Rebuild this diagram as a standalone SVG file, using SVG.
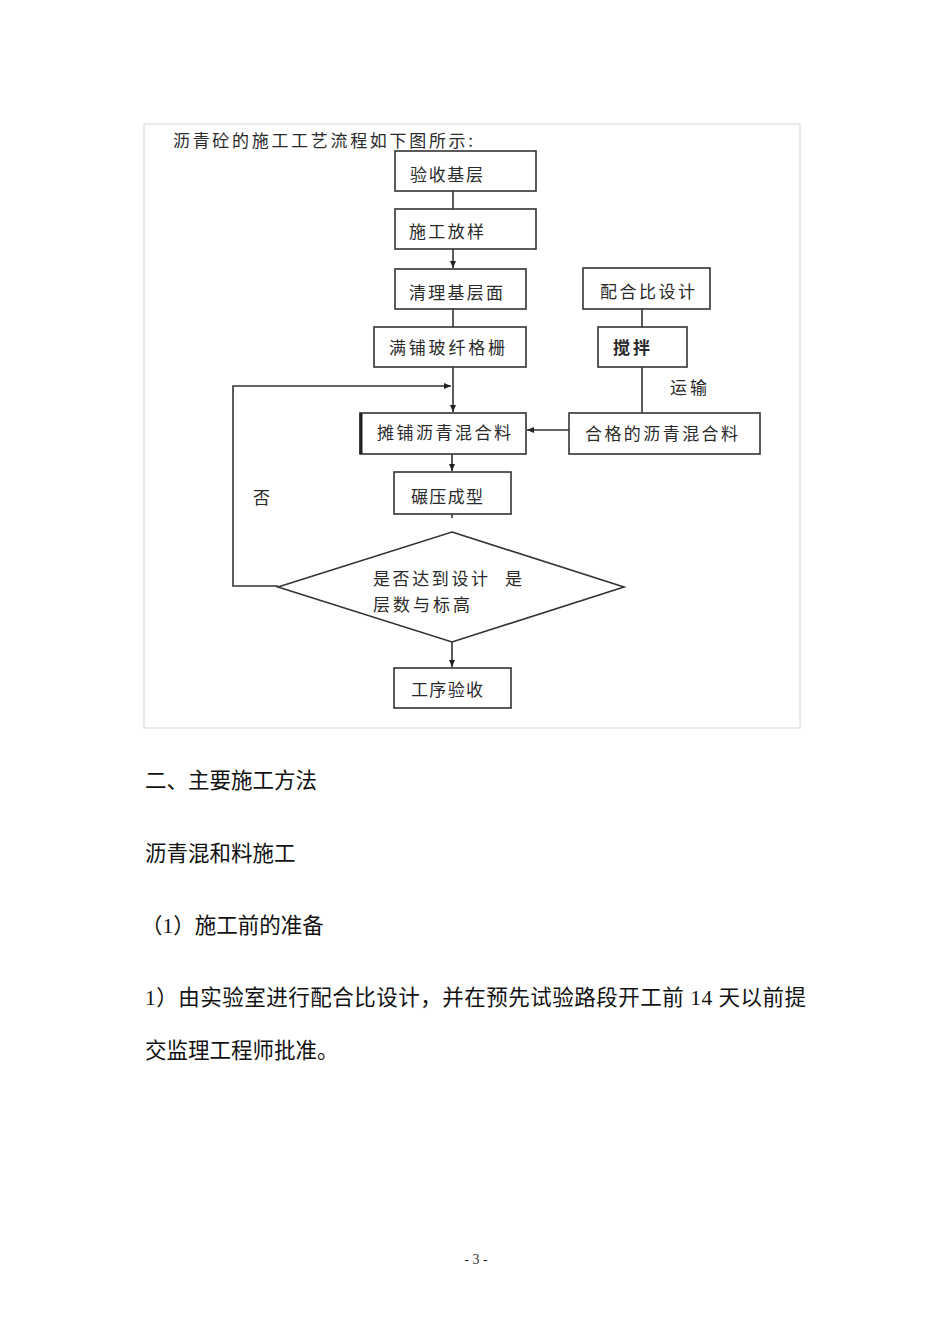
<svg xmlns="http://www.w3.org/2000/svg" width="950" height="1344" viewBox="0 0 950 1344">
<defs>
<marker id="ah" markerWidth="8" markerHeight="8" refX="7" refY="4" orient="auto" markerUnits="userSpaceOnUse">
<path d="M0,1 L7,4 L0,7 Z" fill="#222"/>
</marker>
<style>
.box{fill:#fff;stroke:#333;stroke-width:1.6}
.lbl{font-family:"Noto Sans CJK SC","Liberation Sans",sans-serif;font-size:17px;fill:#2a2a2a}
.ln{fill:none;stroke:#333;stroke-width:1.6}
.body{font-family:"Liberation Serif","Noto Sans CJK SC",serif;font-size:21.5px;fill:#111}
</style>
</defs>
<rect width="950" height="1344" fill="#fff"/>
<rect x="144" y="124" width="656" height="604" fill="none" stroke="#d6d6d6" stroke-width="1"/>
<text class="lbl" x="173" y="147" textLength="300" lengthAdjust="spacing">沥青砼的施工工艺流程如下图所示:</text>

<g id="connectors">
<line class="ln" x1="453" y1="191" x2="453" y2="209"/>
<line class="ln" x1="453" y1="249" x2="453" y2="268" marker-end="url(#ah)"/>
<line class="ln" x1="453" y1="309" x2="453" y2="327"/>
<line class="ln" x1="453" y1="367" x2="453" y2="412" marker-end="url(#ah)"/>
<line class="ln" x1="452" y1="454" x2="452" y2="471" marker-end="url(#ah)"/>
<line class="ln" x1="452" y1="514" x2="452" y2="518"/>
<line class="ln" x1="452" y1="642" x2="452" y2="667" marker-end="url(#ah)"/>
<polyline class="ln" points="278,586 233,586 233,386 451,386" marker-end="url(#ah)"/>
<line class="ln" x1="642" y1="309" x2="642" y2="327"/>
<line class="ln" x1="642" y1="367" x2="642" y2="413"/>
<line class="ln" x1="569" y1="430" x2="527" y2="430" marker-end="url(#ah)"/>
</g>

<g id="n1"><rect class="box" x="395" y="151" width="141" height="40"/><text class="lbl" x="410" y="181" textLength="73" lengthAdjust="spacing">验收基层</text></g>
<g id="n2"><rect class="box" x="395" y="209" width="141" height="40"/><text class="lbl" x="409" y="238" textLength="75" lengthAdjust="spacing">施工放样</text></g>
<g id="n3"><rect class="box" x="395" y="269" width="131" height="40"/><text class="lbl" x="409" y="299" textLength="94" lengthAdjust="spacing">清理基层面</text></g>
<g id="n4"><rect class="box" x="374" y="327" width="152" height="40"/><text class="lbl" x="389" y="354" textLength="116" lengthAdjust="spacing">满铺玻纤格栅</text></g>
<g id="n5"><rect class="box" x="598" y="327" width="89" height="40"/><text class="lbl" x="613" y="354" textLength="37" lengthAdjust="spacing" font-weight="bold">搅拌</text></g>
<g id="n6"><rect class="box" x="583" y="268" width="127" height="41"/><text class="lbl" x="600" y="298" textLength="95" lengthAdjust="spacing">配合比设计</text></g>
<g id="n7"><rect class="box" x="569" y="413" width="191" height="41"/><text class="lbl" x="585" y="440" textLength="153" lengthAdjust="spacing">合格的沥青混合料</text></g>
<g id="n8"><rect class="box" x="360" y="413" width="166" height="41"/><line x1="361" y1="413" x2="361" y2="454" stroke="#222" stroke-width="3"/><text class="lbl" x="377" y="439" textLength="134" lengthAdjust="spacing">摊铺沥青混合料</text></g>
<g id="n9"><rect class="box" x="394" y="472" width="117" height="42"/><text class="lbl" x="411" y="503" textLength="72" lengthAdjust="spacing">碾压成型</text></g>
<g id="n10"><polygon class="box" points="452,532 624,587 452,642 278,587"/><text class="lbl" x="373" y="585" textLength="115" lengthAdjust="spacing">是否达到设计</text><text class="lbl" x="373" y="611" textLength="97" lengthAdjust="spacing">层数与标高</text></g>
<g id="n11"><rect class="box" x="394" y="668" width="117" height="40"/><text class="lbl" x="411" y="696" textLength="72" lengthAdjust="spacing">工序验收</text></g>
<g id="labels">
<text class="lbl" x="670" y="394" textLength="37" lengthAdjust="spacing">运输</text>
<text class="lbl" x="253" y="504">否</text>
<text class="lbl" x="505" y="585">是</text>
</g>

<text class="body" x="145" y="788">二、主要施工方法</text>
<text class="body" x="145" y="861">沥青混和料施工</text>
<text class="body" x="141" y="933">（1）施工前的准备</text>
<text class="body" x="145" y="1005" textLength="661" lengthAdjust="spacing">1）由实验室进行配合比设计，并在预先试验路段开工前 14 天以前提</text>
<text class="body" x="145" y="1058">交监理工程师批准。</text>
<text x="476" y="1264" text-anchor="middle" font-family="Liberation Serif, serif" font-size="14" fill="#333">- 3 -</text>
</svg>
